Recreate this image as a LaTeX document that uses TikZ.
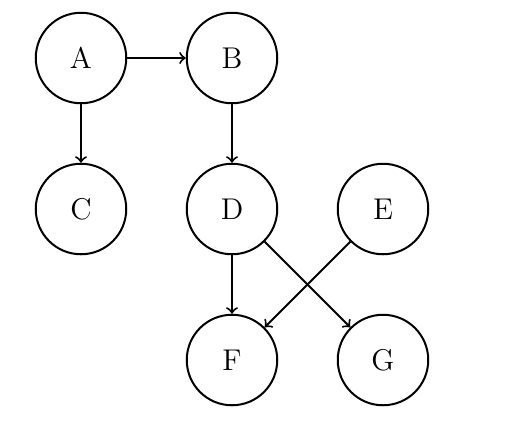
\documentclass[tikz,border=0pt]{standalone}
\begin{document}
\begin{tikzpicture}[x=0.4pt,y=-0.4pt,
  vnode/.style={circle,draw,thick,minimum size=36.2pt,inner sep=0pt,font=\large},
  edge/.style={->,thick}]
\useasboundingbox (0,0) rectangle (520,436);
\node[vnode] (A) at (81,58) {A};
\node[vnode] (B) at (232,58) {B};
\node[vnode] (C) at (81,209) {C};
\node[vnode] (D) at (232,209) {D};
\node[vnode] (E) at (383,209) {E};
\node[vnode] (F) at (232,360) {F};
\node[vnode] (G) at (383,360) {G};
\draw[edge] (A) -- (B);
\draw[edge] (A) -- (C);
\draw[edge] (B) -- (D);
\draw[edge] (D) -- (F);
\draw[edge] (D) -- (G);
\draw[edge] (E) -- (F);
\end{tikzpicture}
\end{document}
